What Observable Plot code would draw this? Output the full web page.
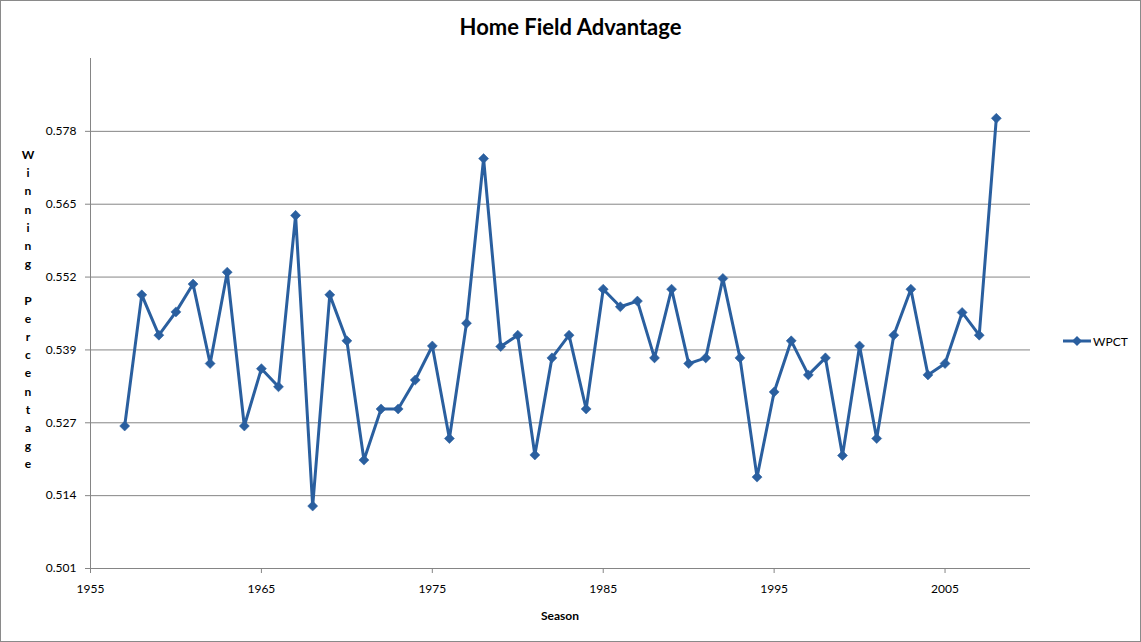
<!DOCTYPE html>
<html>
<head>
<meta charset="utf-8">
<script src="https://cdn.jsdelivr.net/npm/d3@7"></script>
<script src="https://cdn.jsdelivr.net/npm/@observablehq/plot@0.6"></script>
<style>
  body { margin: 0; background: #fff; }
  #chart { position: relative; width: 1141px; height: 642px; overflow: hidden; background: #fff; font-family: Lato, "Open Sans", sans-serif; }
  #frame { position: absolute; left: 0; top: 0; width: 1139px; height: 640px; border: 1px solid #8a8a8a; pointer-events: none; }
  #plot { position: absolute; left: 0; top: 0; }
  #title { position: absolute; left: 0; width: 1141px; top: 13px; text-align: center; font-weight: bold; font-size: 22px; color: #000; }
  #ylabel { position: absolute; left: 18px; width: 20px; top: 146px; text-align: center; font-weight: bold; font-size: 12px; line-height: 18.2px; color: #000; white-space: pre; }
  #xlabel { position: absolute; left: 90px; width: 940px; top: 608px; text-align: center; font-weight: bold; font-size: 12px; color: #000; }
  #legend { position: absolute; left: 1062px; top: 333px; display: flex; align-items: center; font-size: 12px; color: #000; }
</style>
</head>
<body>
<div id="chart">
  <div id="plot"></div>
  <div id="title"></div>
  <div id="ylabel"></div>
  <div id="xlabel"></div>
  <div id="legend"></div>
  <div id="frame"></div>
</div>
<script>
// ---- data ----
const titleText = "Home Field Advantage";
const xTitle = "Season";
const yTitle = "Winning Percentage";
const seriesName = "WPCT";

const seasons = [1957,1958,1959,1960,1961,1962,1963,1964,1965,1966,1967,1968,1969,1970,1971,1972,1973,1974,1975,1976,1977,1978,1979,1980,1981,1982,1983,1984,1985,1986,1987,1988,1989,1990,1991,1992,1993,1994,1995,1996,1997,1998,1999,2000,2001,2002,2003,2004,2005,2006,2007,2008];
const wpct = [0.5261,0.5492,0.5421,0.5462,0.5511,0.5371,0.5532,0.5261,0.5362,0.5330,0.5632,0.5120,0.5492,0.5411,0.5201,0.5291,0.5291,0.5342,0.5402,0.5239,0.5442,0.5732,0.5401,0.5421,0.5210,0.5381,0.5421,0.5291,0.5502,0.5471,0.5481,0.5381,0.5502,0.5371,0.5381,0.5521,0.5381,0.5171,0.5321,0.5411,0.5351,0.5381,0.5209,0.5402,0.5239,0.5421,0.5502,0.5351,0.5371,0.5461,0.5421,0.5803];

const xTicks = [1955,1965,1975,1985,1995,2005];
const xDomain = [1955, 2010];
const yTickLabels = ["0.501","0.514","0.527","0.539","0.552","0.565","0.578"];
const yMin = 0.501, yTopTick = 0.578, yIntervals = 7;

// ---- build ----
const yStep = (yTopTick - yMin) / (yTickLabels.length - 1);
const yTicks = yTickLabels.map((_, i) => yMin + i * yStep);
const yDomain = [yMin, yMin + yIntervals * yStep];
const data = seasons.map((s, i) => ({season: s, wpct: wpct[i]}));
const blue = "#2a5f9f";
const gray = "#858585";

const plot = Plot.plot({
  width: 1141,
  height: 642,
  marginLeft: 90,
  marginRight: 111,
  marginTop: 58,
  marginBottom: 74,
  style: { fontFamily: "Lato, 'Open Sans', sans-serif", fontSize: "12px", color: "#000", background: "transparent" },
  x: { domain: xDomain, label: null },
  y: { domain: yDomain, label: null },
  marks: [
    Plot.gridY(yTicks, { stroke: gray, strokeOpacity: 1, strokeWidth: 1 }),
    Plot.ruleX([xDomain[0]], { stroke: gray, strokeWidth: 1 }),
    Plot.ruleY([yMin], { stroke: gray, strokeWidth: 1 }),
    Plot.axisY({ ticks: yTicks, tickFormat: (d, i) => yTickLabels[i], tickSize: 5, tickPadding: 9, stroke: gray, label: null, fontSize: 12 }),
    Plot.axisX({ ticks: xTicks, tickFormat: d => String(d), tickSize: 5, tickPadding: 11, stroke: gray, label: null, fontSize: 12 }),
    Plot.line(data, { x: "season", y: "wpct", stroke: blue, strokeWidth: 3, strokeLinejoin: "round" }),
    Plot.dot(data, { x: "season", y: "wpct", symbol: "square", rotate: 45, r: 4, fill: blue, stroke: blue, strokeWidth: 0.5 })
  ]
});
document.getElementById("plot").appendChild(plot);

document.getElementById("title").textContent = titleText;
document.getElementById("xlabel").textContent = xTitle;
document.getElementById("ylabel").textContent = yTitle.split("").map(c => c === " " ? "" : c).join("\n");

const leg = document.getElementById("legend");
leg.innerHTML = `<svg width="30" height="16"><line x1="1" x2="29" y1="8" y2="8" stroke="${blue}" stroke-width="3"/><path d="M15,3 L20,8 L15,13 L10,8 Z" fill="${blue}"/></svg><span style="margin-left:1px">${seriesName}</span>`;
</script>
</body>
</html>
